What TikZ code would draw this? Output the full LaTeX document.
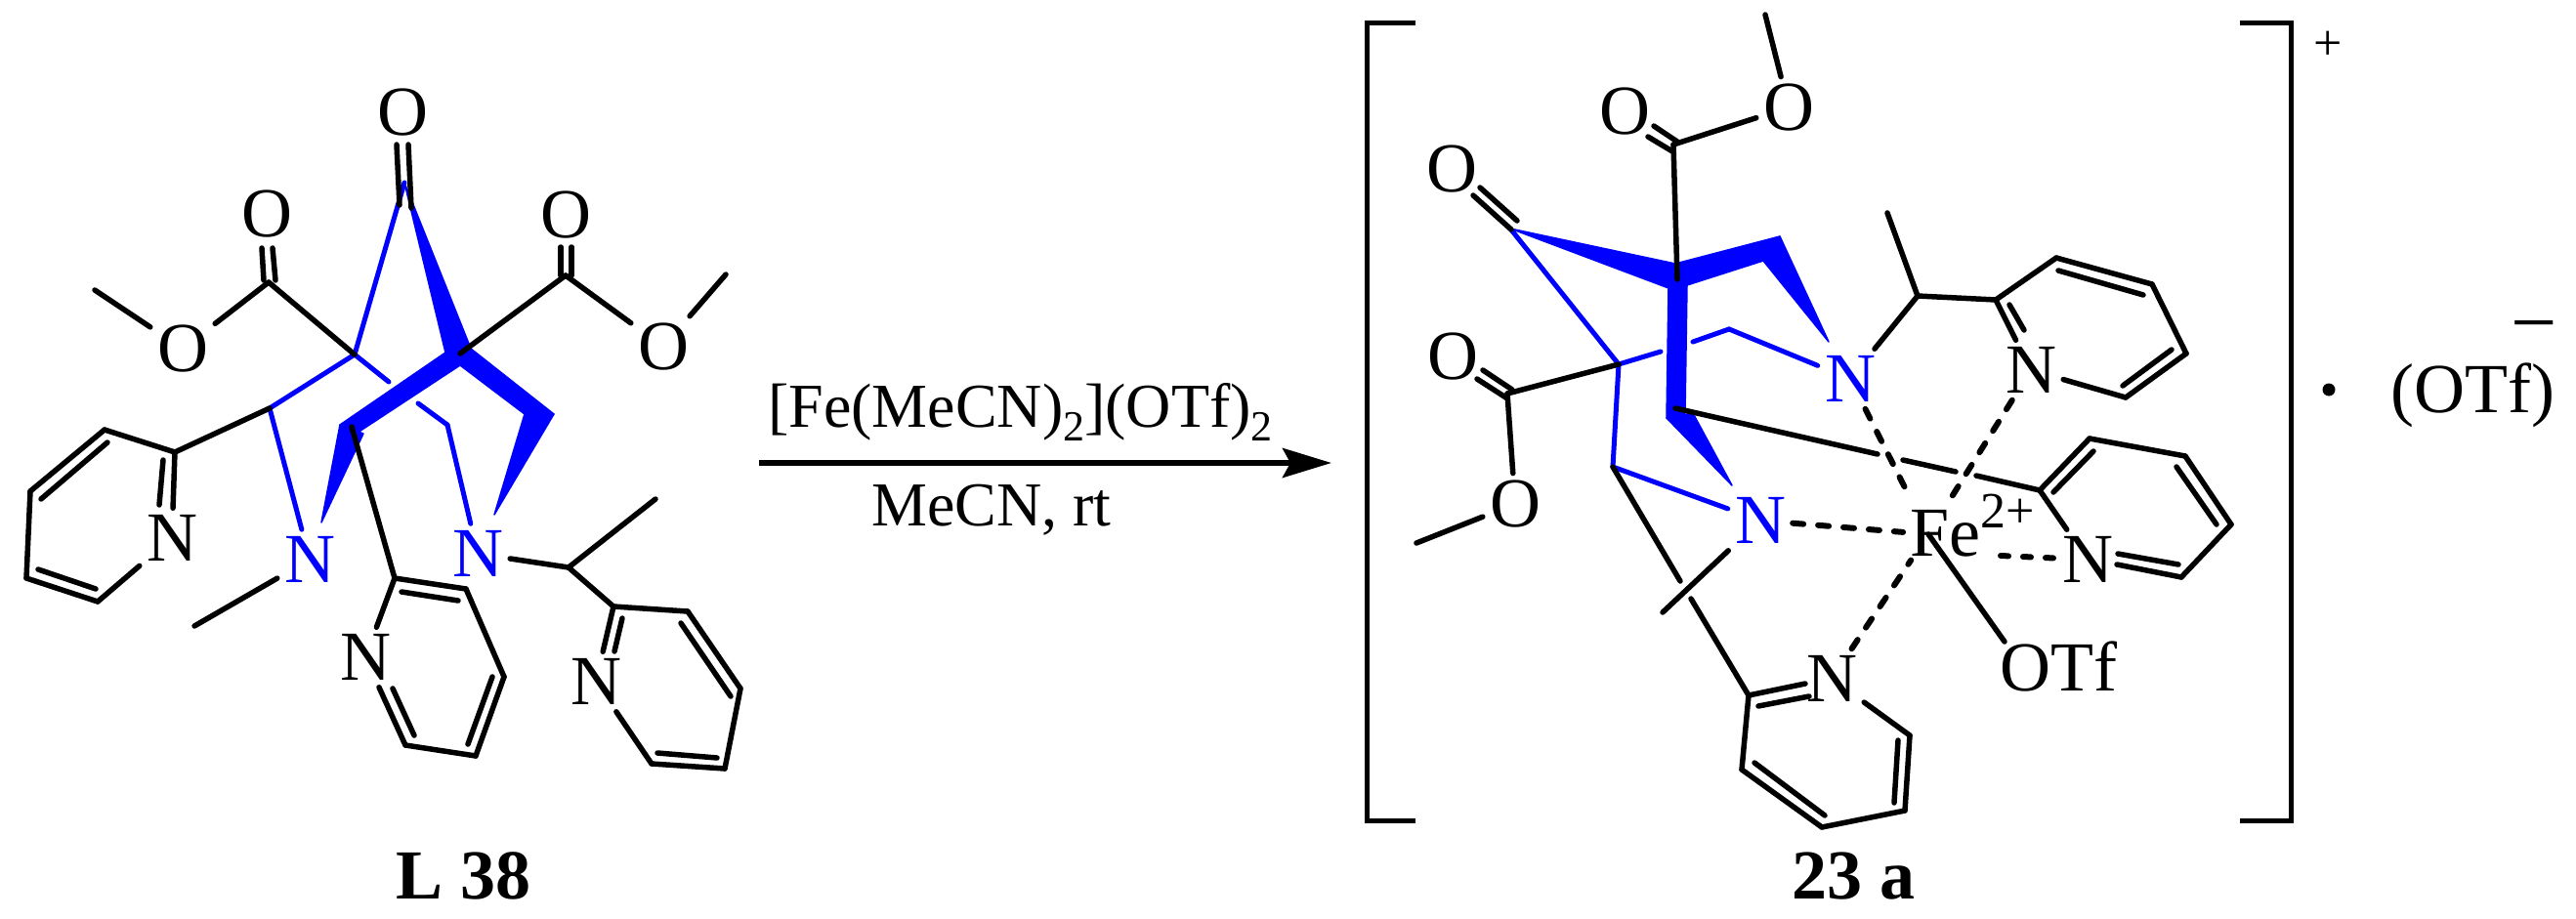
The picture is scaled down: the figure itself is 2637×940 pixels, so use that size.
\documentclass[tikz,border=0pt]{standalone}
\usepackage{fontspec}
\setmainfont{Liberation Serif}
\usetikzlibrary{arrows.meta}
\newcommand{\bigf}{\fontsize{72}{80}\selectfont}
\newcommand{\medf}{\fontsize{64}{70}\selectfont}
\newcommand{\smlf}{\fontsize{52}{60}\selectfont}
\newcommand{\subt}{\raisebox{-14pt}{\fontsize{44}{50}\selectfont 2}}
\tikzset{
	bond/.style={line width=5.5pt,line cap=round,line join=round},
	blueb/.style={bond,blue,line width=5pt},
	dative/.style={bond,line width=6pt,dash pattern=on 11pt off 15pt},
	wedgeb/.style={fill=blue,draw=blue,line width=1.5pt,line join=round},
	brack/.style={line width=5pt,line join=miter},
	atom/.style={font=\bigf,inner sep=7pt},
	batom/.style={atom,text=blue},
	word/.style={font=\bigf,inner sep=0pt,anchor=base west}
}
\begin{document}
\begin{tikzpicture}[x=1pt,y=-1pt]
	\useasboundingbox (0,0) rectangle (2637,940);
	%ATOMS LEFT
	\node[atom] (lOk) at (412,115) {O};
	\node[atom] (lOc) at (273,219) {O};
	\node[atom] (lOa) at (187,357) {O};
	\node[atom] (lOe) at (579,220) {O};
	\node[atom] (lOb) at (679,355) {O};
	\node[batom] (lNb) at (317,573) {N};
	\node[batom] (lNc) at (489,567) {N};
	\node[atom] (lNa) at (176,551) {N};
	\node[atom] (lNd) at (374,673) {N};
	\node[atom] (lNe) at (610,698) {N};
	%ATOMS RIGHT
	\node[atom] (rOk) at (1486,173) {O};
	\node[atom] (rOc) at (1663,114) {O};
	\node[atom] (rOb) at (1831,110) {O};
	\node[atom] (rOe) at (1487,365) {O};
	\node[atom] (rOd) at (1551,516) {O};
	\node[batom] (rNa) at (1894,388) {N};
	\node[batom] (rNb) at (1802,533) {N};
	\node[atom] (rNc) at (2079,379) {N};
	\node[atom] (rNd) at (2137,573) {N};
	\node[atom] (rNe) at (1875,695) {N};
	\node[word] (rFe) at (1955,569) {Fe\raisebox{29pt}{\smlf 2+}};
	\node[word] (rOTf) at (2047,707) {OTf};
	%SKELETON POINTS
	\foreach \n/\x/\y in {
		lCk/414/187,lBa/363/363,lBb/471/362,lCa/276/418,lEa/275/289,lEb/579/282,
		lGa/398/391,lGb/428/413,lDa/458/435,lHa/360/437,lMa/97/297,lMb/743/281,
		lMc/671/511,lMd/199/641,lC0/582/581,
		lK1/406/148,lK2/409/210,lK3/418/148,lK4/421/213,
		lL1/268/254,lL2/270/287,lL3/279/254,lL4/282/287,
		lP1/574/253,lP2/574/282,lP3/585/253,lP4/585/282,
		lA1/179/463,lA2/107/440,lA3/31/503,lA4/27/592,lA5/100/616,
		lAa/167/471,lAb/163/517,lAc/110/453,lAd/42/511,lAe/39/583,lAf/98/603,
		lB1/404/592,lB2/477/603,lB3/516/693,lB4/487/774,lB5/415/763,
		lBc/411/606,lBd/469/615,lBe/504/693,lBf/479/762,lBg/402/705,lBh/424/753,
		lC1/628/621,lC2/704/626,lC3/758/705,lC4/742/787,lC5/667/782,
		lCc/637/633,lCd/629/667,lCe/697/638,lCf/748/713,lCg/673/771,lCh/734/776,
		lW1/456/361,lW2/471/374,lW3/482/357,lW4/348/435,lW5/363/445,lW6/329/535,
		lW7/372/444,lW8/567/424,lW9/537/424,lWa/506/527,
		rCk/1546/234,rBa/1657/373,rGa/1700/360,rGb/1733/350,rDa/1770/337,rCa/1651/478,
		rEa/1713/148,rBb/1717/286,rEc/1543/403,rMa/1807/15,rMd/1450/556,rMe/1702/627,
		rHa/1720/595,rHb/1731/613,rP0/1963/303,rMb/1932/218,
		rK1/1515/192,rK2/1553/226,rK3/1508/200,rK4/1547/235,
		rL1/1693/129,rL2/1717/145,rL3/1687/140,rL4/1712/155,
		rQ1/1518/379,rQ2/1548/399,rQ3/1512/388,rQ4/1543/408,
		rR1/1790/712,rR2/1783/788,rR3/1865/847,rR4/1950/830,rR5/1955/753,
		rRa/1848/700,rRb/1800/723,rRc/1852/713,rRd/1796/781,rRe/1868/835,rRf/1943/758,rRg/1939/822,
		rS1/2043/307,rS2/2105/264,rS3/2203/291,rS4/2238/362,rS5/2176/407,
		rSa/2057/312,rSb/2072/338,rSc/2107/277,rSd/2194/302,rSe/2223/358,rSf/2173/395,
		rT1/1715/418,rT2/1922/465,rT3/1948/471,rT4/2002/483,rT5/2023/487,
		rU1/2088/502,rU2/2139/449,rU3/2237/467,rU4/2284/537,rU5/2233/591,
		rUa/2102/504,rUb/2143/462,rUc/2228/478,rUd/2269/537,rUe/2167/578,rUf/2230/578,rUg/2168/567,
		rFa/1974/547,rFb/2048/569,rOf/2052/657,
		rW1/1715/270,rW2/1708/295,rW3/1822/242,rW4/1805/267,rW5/1727/292,rW6/1872/350,
		rW7/1725/423,rW8/1706/428,rW9/1733/423,rWa/1773/497,
		bA1/1449/23,bA2/1399/23,bA3/1399/840,bA4/1449/840,
		bB1/2293/23,bB2/2345/23,bB3/2345/840,bB4/2293/840,
		aS/777/474,aT/1363/474
	}{\coordinate (\n) at (\x,\y);}
	%WEDGES
	\fill[wedgeb] (lCk) -- (lW1) -- (lW2) -- (lW3) -- cycle;
	\fill[wedgeb] (lW1) -- (lW4) -- (lW5) -- (lW2) -- cycle;
	\fill[wedgeb] (lW4) -- (lW6) -- (lW7) -- cycle;
	\fill[wedgeb] (lW3) -- (lW8) -- (lW9) -- (lW2) -- cycle;
	\fill[wedgeb] (lW8) -- (lWa) -- (lW9) -- cycle;
	\fill[wedgeb] (rCk) -- (rW1) -- (rW2) -- cycle;
	\fill[wedgeb] (rW1) -- (rW3) -- (rW4) -- (rW5) -- (rW2) -- cycle;
	\fill[wedgeb] (rW3) -- (rW6) -- (rW4) -- cycle;
	\fill[wedgeb] (rW2) -- (rW5) -- (rW7) -- (rW8) -- cycle;
	\fill[wedgeb] (rW8) -- (rW9) -- (rWa) -- cycle;
	%BLUE BONDS
	\foreach \a/\b in {lCk/lBa,lBa/lCa,lCa/lNb,lBa/lGa,lGb/lDa,lDa/lNc,
		rCk/rBa,rBa/rGa,rGb/rDa,rDa/rNa,rBa/rCa,rCa/rNb}
		\draw[blueb] (\a) -- (\b);
	%BLACK BONDS
	\foreach \a/\b in {lK1/lK2,lK3/lK4,lBa/lEa,lL1/lL2,lL3/lL4,lEa/lOa,lOa/lMa,
		lBb/lEb,lP1/lP2,lP3/lP4,lEb/lOb,lOb/lMb,lCa/lA1,
		lA1/lA2,lA2/lA3,lA3/lA4,lA4/lA5,lA5/lNa,lA1/lNa,lAa/lAb,lAc/lAd,lAe/lAf,
		lNb/lMd,lHa/lB1,lB1/lB2,lB2/lB3,lB3/lB4,lB4/lB5,lB5/lNd,lB1/lNd,lBc/lBd,lBe/lBf,lBg/lBh,
		lNc/lC0,lC0/lMc,lC0/lC1,lC1/lC2,lC2/lC3,lC3/lC4,lC4/lC5,lC5/lNe,lC1/lNe,lCc/lCd,lCe/lCf,lCg/lCh,
		rK1/rK2,rK3/rK4,rEa/rBb,rL1/rL2,rL3/rL4,rEa/rOb,rOb/rMa,
		rBa/rEc,rQ1/rQ2,rQ3/rQ4,rEc/rOd,rOd/rMd,
		rCa/rHa,rNb/rMe,rHb/rR1,rR1/rRa,rRb/rRc,rR1/rR2,rR2/rR3,rR3/rR4,rR4/rR5,rR5/rNe,rRd/rRe,rRf/rRg,
		rNa/rP0,rP0/rMb,rP0/rS1,rS1/rS2,rS2/rS3,rS3/rS4,rS4/rS5,rS5/rNc,rS1/rNc,rSa/rSb,rSc/rSd,rSe/rSf,
		rT1/rT2,rT3/rT4,rT5/rU1,rU1/rU2,rU2/rU3,rU3/rU4,rU4/rU5,rU5/rUe,rU1/rNd,rUa/rUb,rUc/rUd,rUf/rUg,
		rFa/rOf}
		\draw[bond] (\a) -- (\b);
	%IRON
	\draw[dative,shorten >=40pt] (rNa) -- (rFa);
	\draw[dative,shorten >=40pt] (rNc) -- (rFa);
	\draw[dative,shorten >=26pt] (rNb) -- (rFa);
	\draw[dative,shorten >=32pt] (rNe) -- (rFa);
	\draw[dative,dash pattern=on 8pt off 15pt] (rFb) -- (rNd);
	%ARROW AND BRACKETS
	\draw[-{Stealth[length=50pt,width=30pt,inset=8pt]},line width=6pt] (aS) -- (aT);
	\draw[brack] (bA1) -- (bA2) -- (bA3) -- (bA4);
	\draw[brack] (bB1) -- (bB2) -- (bB3) -- (bB4);
	\node[word,font=\medf] (rgt) at (786,437) {[Fe(MeCN)\subt](OTf)\subt};
	\node[font=\medf,inner sep=0pt,anchor=base] (slv) at (1015,538) {MeCN, rt};
	\node[word,font=\bigf\bfseries] (lbL) at (405,920) {L 38};
	\node[word,font=\bigf\bfseries] (lbR) at (1834,920) {23 a};
	\node[font=\smlf,inner sep=0pt] (chg) at (2383,47) {+};
	\node[circle,fill=black,minimum size=13pt,inner sep=0pt] (dot) at (2384,399) {};
	\node[word] (anion) at (2447,422) {(OTf)};
	\node[font=\fontsize{84}{90}\selectfont,inner sep=0pt] (minus) at (2594,344) {−};
\end{tikzpicture}
\end{document}
